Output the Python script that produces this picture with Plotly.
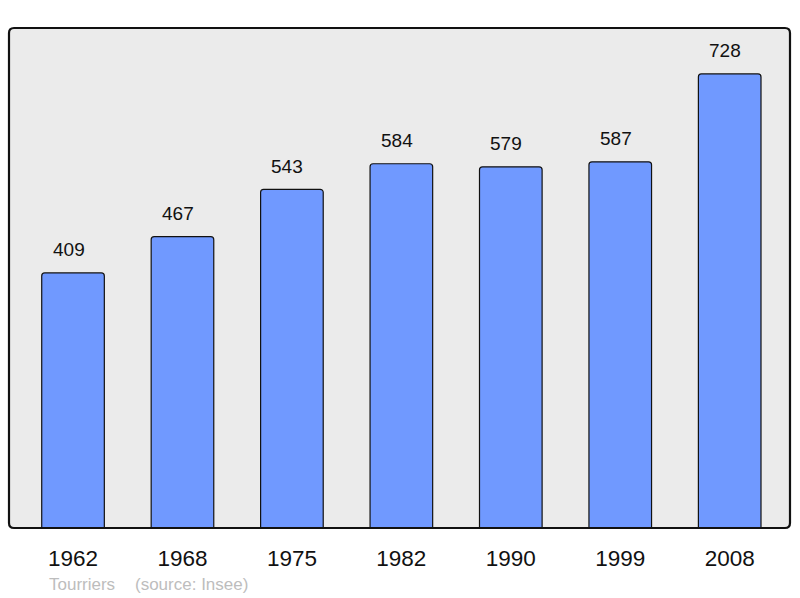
import plotly.graph_objects as go

years = ["1962", "1968", "1975", "1982", "1990", "1999", "2008"]
population = [409, 467, 543, 584, 579, 587, 728]
source_name = "Tourriers"
source_note = "(source: Insee)"

W, H = 800, 598
L, R, T, B = 9, 10, 28, 70
pw, ph = W - L - R, H - T - B

fig = go.Figure()
fig.add_trace(go.Bar(
    x=years, y=population, width=0.572,
    marker=dict(color="#7099ff", line=dict(color="#111111", width=1.2), cornerradius=3),
    hoverinfo="skip",
))

for i, v in enumerate(population):
    fig.add_annotation(x=i, y=v, text=str(v), showarrow=False, yanchor="bottom",
                       yshift=10.5, xshift=-4.5,
                       font=dict(family="Liberation Sans", size=19, color="#111111"))

# rounded frame
rx = 5 / pw
ry = 5 / ph
path = (f"M {rx},0 L {1-rx},0 Q 1,0 1,{ry} L 1,{1-ry} Q 1,1 {1-rx},1 "
        f"L {rx},1 Q 0,1 0,{1-ry} L 0,{ry} Q 0,0 {rx},0 Z")
fig.add_shape(type="path", path=path, xref="paper", yref="paper",
              fillcolor="#ebebeb", line=dict(width=0), layer="below")
fig.add_shape(type="path", path=path, xref="paper", yref="paper",
              fillcolor="rgba(0,0,0,0)", line=dict(color="#111111", width=2.2), layer="above")

src_y = -(596 - (T + ph)) / ph
fig.add_annotation(x=(47 - L) / pw, y=src_y, xref="paper", yref="paper",
                   xanchor="left", yanchor="bottom", showarrow=False, text=source_name,
                   font=dict(family="Liberation Sans", size=17, color="#bdbdbd"))
fig.add_annotation(x=(133 - L) / pw, y=src_y, xref="paper", yref="paper",
                   xanchor="left", yanchor="bottom", showarrow=False, text=source_note,
                   font=dict(family="Liberation Sans", size=17, color="#bdbdbd"))

fig.update_layout(
    width=W, height=H, margin=dict(l=L, r=R, t=T, b=B, pad=0),
    paper_bgcolor="white", plot_bgcolor="rgba(0,0,0,0)",
    showlegend=False,
    xaxis=dict(type="category", range=[-0.585, 6.551], showgrid=False, zeroline=False,
               showline=False, ticks="", ticklabelstandoff=14,
               tickfont=dict(family="Liberation Sans", size=22.5, color="#111111")),
    yaxis=dict(range=[0, 801.6], visible=False),
)

fig.write_html("out.html", config={"displayModeBar": False},
               post_script="document.body.style.margin='0';document.body.style.overflow='hidden';")
